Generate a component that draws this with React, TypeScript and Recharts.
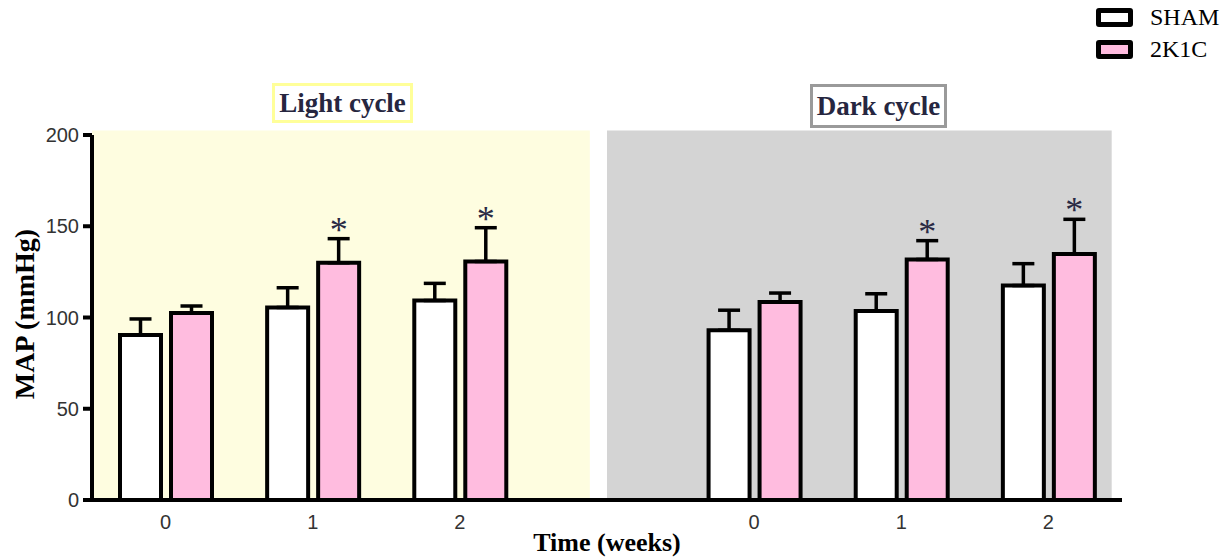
import React from 'react';
import {
  ComposedChart,
  Bar,
  XAxis,
  YAxis,
  ErrorBar,
  ReferenceArea,
  LabelList,
  Legend,
} from 'recharts';

// ---- data ----
const categories = ['L0', 'L1', 'L2', 'gap', 'D0', 'D1', 'D2'];
const tickLabels = ['0', '1', '2', '', '0', '1', '2'];
const shamValues = [90.4, 105.5, 109.3, null, 93, 103.6, 117.5];
const shamErrors = [8.8, 10.8, 9.4, null, 11, 9.4, 12];
const k2Values = [102.5, 130, 130.7, null, 108.5, 131.8, 134.8];
const k2Errors = [3.8, 13.2, 18.5, null, 4.9, 10.3, 19];
const significant = [false, true, true, false, false, true, true];
const yTicks = [0, 50, 100, 150, 200];
const seriesNames = ['SHAM', '2K1C'];
const seriesFills = ['#FFFFFF', '#FFBCDF'];
// background panels on a 0..6 helper scale spanning the plot width
const panelStarts = [0, 3.0];
const panelEnds = [2.9, 5.94];
const panelTop = 202.5;
const panelFills = ['#FEFDE0', '#D4D4D4'];
const panelTitles = ['Light cycle', 'Dark cycle'];

const data = categories.map((c, i) => ({
  cat: c,
  sham: shamValues[i],
  shamErr: shamErrors[i],
  k2: k2Values[i],
  k2Err: k2Errors[i],
}));

const serif = '"Liberation Serif", "Times New Roman", serif';
const sans = '"Liberation Sans", Arial, sans-serif';

const StarLabel = (props: any) => {
  const vb = props.viewBox || props;
  const { x, y, width, height } = vb;
  const idx = categories.indexOf(props.value);
  if (idx < 0 || !significant[idx] || !height) return null;
  const barValue = k2Values[idx] as number;
  const pxPerUnit = height / barValue;
  const capY = y - (k2Errors[idx] as number) * pxPerUnit;
  return (
    <text
      x={x + width / 2}
      y={capY + 3}
      textAnchor="middle"
      fontFamily={serif}
      fontSize={36}
      fill="#2A2A44"
    >
      *
    </text>
  );
};

const LegendContent = () => (
  <div style={{ fontFamily: serif, fontSize: 24, color: '#000' }}>
    {seriesNames.map((n, i) => (
      <div key={n} style={{ display: 'flex', alignItems: 'center', height: 32 }}>
        <span
          style={{
            display: 'inline-block',
            width: 37,
            height: 19,
            border: '5px solid #000',
            borderRadius: 3,
            boxSizing: 'border-box',
            background: seriesFills[i],
            marginRight: 17,
          }}
        />
        <span>{n}</span>
      </div>
    ))}
  </div>
);

export default function App() {
  return (
    <div style={{ position: 'absolute', left: 0, top: 0, width: 1230, height: 558, background: '#fff' }}>
      <ComposedChart
        width={1230}
        height={558}
        data={data}
        margin={{ top: 135, right: 108, bottom: 0, left: 0 }}
        barSize={41}
        barGap={10}
      >
        <XAxis
          xAxisId="bg"
          type="number"
          domain={[0, 6]}
          allowDataOverflow
          hide
        />
        {panelStarts.map((s, i) => (
          <ReferenceArea
            key={i}
            xAxisId="bg"
            x1={s}
            x2={panelEnds[i]}
            y1={0}
            y2={panelTop}
            fill={panelFills[i]}
            fillOpacity={1}
            stroke="none"
            ifOverflow="visible"
          />
        ))}
        <XAxis
          dataKey="cat"
          height={58}
          tickLine={false}
          tickMargin={9}
          axisLine={{ stroke: '#000', strokeWidth: 4 }}
          tickFormatter={(v: string) => tickLabels[categories.indexOf(v)]}
          tick={{ fontFamily: sans, fontSize: 20, fill: '#333' }}
          label={{
            value: 'Time (weeks)',
            position: 'insideBottom',
            offset: 7,
            style: { fontFamily: serif, fontSize: 26, fontWeight: 'bold', fill: '#000' },
          }}
        />
        <YAxis
          width={92}
          domain={[0, 200]}
          ticks={yTicks}
          interval={0}
          tickSize={9}
          tickMargin={4}
          axisLine={{ stroke: '#000', strokeWidth: 4 }}
          tickLine={{ stroke: '#000', strokeWidth: 4 }}
          tick={{ fontFamily: sans, fontSize: 20, fill: '#333' }}
          label={{
            content: () => (
              <text
                transform="translate(34, 314) rotate(-90)"
                textAnchor="middle"
                fontFamily={serif}
                fontSize={28}
                fontWeight="bold"
                fill="#000"
              >
                MAP (mmHg)
              </text>
            ),
          }}
        />
        <Legend
          verticalAlign="middle"
          align="center"
          layout="horizontal"
          wrapperStyle={{ left: 1096, top: 1, width: 134 }}
          content={<LegendContent />}
        />
        <Bar
          dataKey="sham"
          name={seriesNames[0]}
          fill={seriesFills[0]}
          stroke="#000"
          strokeWidth={4}
          isAnimationActive={false}
        >
          <ErrorBar
            dataKey={(d: any) => [0, d.shamErr == null ? 0 : d.shamErr]}
            direction="y"
            width={11}
            stroke="#000"
            strokeWidth={3.5}
            isAnimationActive={false}
          />
        </Bar>
        <Bar
          dataKey="k2"
          name={seriesNames[1]}
          fill={seriesFills[1]}
          stroke="#000"
          strokeWidth={4}
          isAnimationActive={false}
        >
          <ErrorBar
            dataKey={(d: any) => [0, d.k2Err == null ? 0 : d.k2Err]}
            direction="y"
            width={11}
            stroke="#000"
            strokeWidth={3.5}
            isAnimationActive={false}
          />
          <LabelList dataKey="cat" content={<StarLabel />} />
        </Bar>
      </ComposedChart>
      <div
        style={{
          position: 'absolute',
          left: 272,
          top: 83,
          width: 141,
          height: 40,
          border: '3px solid #FFFF99',
          boxSizing: 'border-box',
          display: 'flex',
          alignItems: 'center',
          justifyContent: 'center',
          fontFamily: serif,
          fontWeight: 'bold',
          fontSize: 27,
          color: '#262640',
          background: '#fff',
        }}
      >
        {panelTitles[0]}
      </div>
      <div
        style={{
          position: 'absolute',
          left: 810,
          top: 84,
          width: 137,
          height: 44,
          border: '3px solid #9A9A9A',
          boxSizing: 'border-box',
          display: 'flex',
          alignItems: 'center',
          justifyContent: 'center',
          fontFamily: serif,
          fontWeight: 'bold',
          fontSize: 27,
          color: '#262640',
          background: '#fff',
        }}
      >
        {panelTitles[1]}
      </div>
    </div>
  );
}
